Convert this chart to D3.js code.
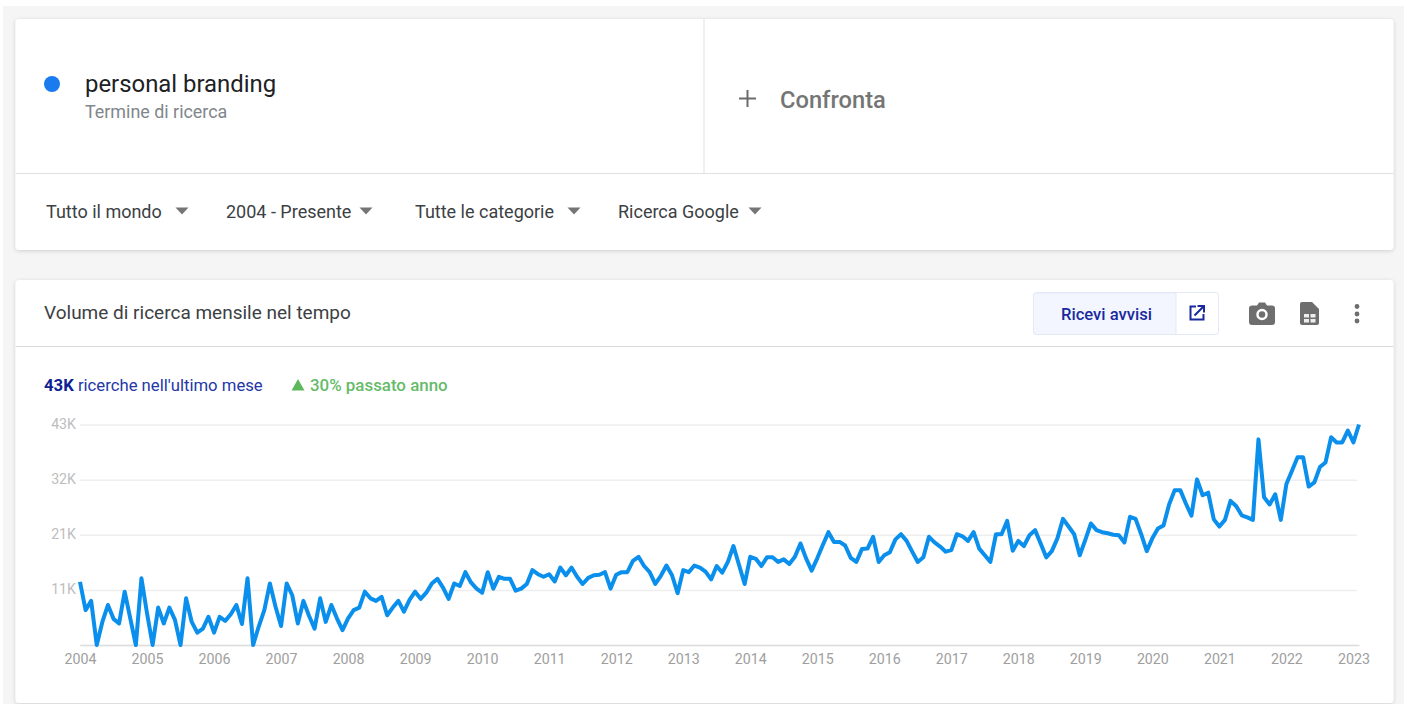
<!DOCTYPE html>
<html>
<head>
<meta charset="utf-8">
<script src="https://cdn.jsdelivr.net/npm/d3@7"></script>
<style>
  html, body { margin: 0; padding: 0; background: #fff; overflow: hidden; }
  svg { display: block; }
  text { font-family: Roboto, sans-serif; }
</style>
</head>
<body>
<div id="container"></div>
<script>
const width = 1407
const height = 704

// monthly searches in thousands, jan 2004 to feb 2023
const searches2004 = [12.3, 6.8, 8.6, 0, 4.5, 7.8, 5.1, 4.2, 10.4, 5.2, 0, 13.0]
const searches2005 = [6.2, 0, 7.3, 4.2, 7.3, 4.9, 0, 9.1, 4.5, 2.4, 3.2, 5.5]
const searches2006 = [2.4, 5.5, 4.7, 6.0, 7.8, 4.1, 13.0, 0, 3.6, 6.8, 12.0, 7.5]
const searches2007 = [3.7, 12.0, 9.7, 4.2, 8.6, 5.7, 3.2, 9.1, 4.5, 7.8, 5.2, 2.9]
const searches2008 = [5.2, 6.8, 7.3, 10.4, 9.1, 8.6, 9.4, 5.8, 7.3, 8.6, 6.5, 8.8]
const searches2009 = [10.4, 9.0, 10.2, 12.0, 12.9, 11.2, 9.0, 12.0, 11.5, 14.2, 12.2, 11.0]
const searches2010 = [10.2, 14.2, 11.0, 13.3, 12.9, 12.9, 10.6, 11.0, 11.9, 14.6, 13.8, 13.3]
const searches2011 = [13.8, 12.4, 15.1, 13.6, 15.1, 13.3, 11.9, 13.1, 13.6, 13.7, 14.2, 11.0]
const searches2012 = [13.7, 14.2, 14.2, 16.4, 17.2, 15.4, 14.2, 11.9, 13.5, 15.5, 13.6, 10.1]
const searches2013 = [14.6, 14.2, 15.5, 15.1, 14.3, 12.8, 15.4, 14.1, 16.2, 19.3, 15.6, 11.9]
const searches2014 = [17.2, 16.8, 15.4, 17.1, 17.1, 16.2, 16.7, 15.8, 17.2, 19.8, 16.9, 14.5]
const searches2015 = [16.9, 19.5, 22.0, 20.1, 20.1, 19.4, 17.0, 16.2, 18.7, 18.8, 21.1, 16.2]
const searches2016 = [17.5, 18.1, 20.6, 21.6, 20.3, 18.2, 16.2, 17.1, 21.1, 20.0, 19.2, 18.2]
const searches2017 = [18.5, 21.6, 21.2, 20.3, 22.0, 18.8, 17.5, 16.2, 21.6, 21.6, 24.2, 18.4]
const searches2018 = [20.3, 19.3, 21.4, 22.4, 19.8, 17.1, 18.3, 20.8, 24.6, 23.1, 21.6, 17.5]
const searches2019 = [20.5, 23.7, 22.4, 22.0, 21.8, 21.5, 21.4, 20.0, 25.0, 24.6, 21.6, 18.3]
const searches2020 = [20.8, 22.7, 23.3, 27.4, 30.2, 30.2, 27.6, 25.2, 32.3, 29.2, 29.7, 24.5]
const searches2021 = [23.1, 24.4, 28.1, 27.1, 25.3, 24.9, 24.4, 40.1, 28.8, 27.4, 29.4, 24.4]
const searches2022 = [31.4, 34.0, 36.6, 36.6, 30.9, 31.7, 34.7, 35.6, 40.5, 39.5, 39.5, 41.8]
const searches2023 = [39.5, 43.0]

const searches = [].concat(searches2004, searches2005, searches2006, searches2007, searches2008,
    searches2009, searches2010, searches2011, searches2012, searches2013, searches2014, searches2015,
    searches2016, searches2017, searches2018, searches2019, searches2020, searches2021, searches2022, searches2023)

const yearLabels = d3.range(2004, 2024)
const yTickValues = [0, 10.75, 21.5, 32.25, 43]
const yTickLabels = ["", "11K", "21K", "32K", "43K"]
const filters = [
    {label: "Tutto il mondo", x: 46, arrow: 182},
    {label: "2004 - Presente", x: 226, arrow: 366},
    {label: "Tutte le categorie", x: 415, arrow: 574},
    {label: "Ricerca Google", x: 618, arrow: 755}
]

const svg = d3.select("#container").append("svg")
    .attr("width", width)
    .attr("height", height)

const defs = svg.append("defs")
const shadow = defs.append("filter").attr("id", "cardShadow")
    .attr("x", "-2%").attr("y", "-5%").attr("width", "104%").attr("height", "110%")
shadow.append("feDropShadow")
    .attr("dx", 0).attr("dy", 1).attr("stdDeviation", 2)
    .attr("flood-color", "#000").attr("flood-opacity", 0.16)

// page background
svg.append("rect").attr("x", 3).attr("y", 6).attr("width", 1401).attr("height", 698).attr("fill", "#f5f5f5")

function addCard(y, h) {
    svg.append("rect")
        .attr("x", 15.5).attr("y", y).attr("width", 1378).attr("height", h).attr("rx", 4)
        .attr("fill", "#fff").attr("filter", "url(#cardShadow)")
}
function addText(x, y, str, size, color, weight) {
    return svg.append("text")
        .attr("x", x).attr("y", y).text(str)
        .attr("font-size", size).attr("fill", color).attr("font-weight", weight || 400)
}
function addRule(x1, y1, x2, y2, color, w) {
    svg.append("line")
        .attr("x1", x1).attr("y1", y1).attr("x2", x2).attr("y2", y2)
        .attr("stroke", color).attr("stroke-width", w || 1)
}

// top card
addCard(19, 231)
addRule(704, 19, 704, 173, "#e0e0e0")
addRule(15.5, 173.5, 1393.5, 173.5, "#e0e0e0")
svg.append("circle").attr("cx", 52).attr("cy", 84).attr("r", 8).attr("fill", "#1a7bf0")
addText(85, 92, "personal branding", 23.9, "#202124")
addText(85, 118, "Termine di ricerca", 17.9, "#80868b")
addRule(739, 98.5, 756, 98.5, "#6b6b6b", 2)
addRule(747.5, 90, 747.5, 107, "#6b6b6b", 2)
addText(780, 107.5, "Confronta", 23.7, "#757575", 500)

filters.forEach(f => {
    addText(f.x, 218, f.label, 18, "#3c4043")
    svg.append("path")
        .attr("d", "M-6.5 -3.5H6.5L0 3.5Z")
        .attr("transform", `translate(${f.arrow},211)`)
        .attr("fill", "#757575")
})

// chart card
addCard(280, 423)
addRule(15.5, 346.5, 1393.5, 346.5, "#dadce0")
addText(44, 319, "Volume di ricerca mensile nel tempo", 19, "#3c4043")

svg.append("rect").attr("x", 1033.5).attr("y", 292.5).attr("width", 185).attr("height", 42).attr("rx", 3)
    .attr("fill", "#fff").attr("stroke", "#e4e9f7")
svg.append("path").attr("d", "M1176 293H1036.5a3 3 0 0 0 -3 3V331.5a3 3 0 0 0 3 3H1176Z")
    .attr("fill", "#f3f6fe").attr("stroke", "#e4e9f7")
addText(1061, 319.5, "Ricevi avvisi", 16.6, "#1a2a9e", 500)

// open in new window icon
svg.append("path")
    .attr("d", "M1196 306.5H1190.5V319.5H1203.5V314M1194.5 315.5L1203 307M1197.5 306H1204V312.5")
    .attr("fill", "none").attr("stroke", "#1a2a9e").attr("stroke-width", 2)

// camera icon
svg.append("path")
    .attr("d", "M1252 305.5H1257L1259 302.5H1265L1267 305.5H1272a3 3 0 0 1 3 3V322a3 3 0 0 1 -3 3H1252a3 3 0 0 1 -3 -3V308.5a3 3 0 0 1 3 -3Z")
    .attr("fill", "#6e6e6e")
svg.append("circle").attr("cx", 1262).attr("cy", 314.5).attr("r", 4.5)
    .attr("fill", "#6e6e6e").attr("stroke", "#fff").attr("stroke-width", 2.5)

// sheet icon
svg.append("path")
    .attr("d", "M1302 302H1312L1319 309V323a2 2 0 0 1 -2 2H1302a2 2 0 0 1 -2 -2V304a2 2 0 0 1 2 -2Z")
    .attr("fill", "#6e6e6e")
svg.selectAll(".sheetCell").data([[1304, 314], [1310.5, 314], [1304, 319], [1310.5, 319]]).enter().append("rect")
    .attr("class", "sheetCell")
    .attr("x", d => d[0]).attr("y", d => d[1]).attr("width", 5).attr("height", 3.5).attr("fill", "#eee")

// three dots
svg.selectAll(".moreDot").data([306.5, 314, 321]).enter().append("circle")
    .attr("class", "moreDot")
    .attr("cx", 1357).attr("cy", d => d).attr("r", 2.4).attr("fill", "#6e6e6e")

// summary line
const summary = addText(44, 390.5, "", 16.7, "#2337a8")
summary.append("tspan").text("43K").attr("font-weight", 700).attr("fill", "#0f1f96")
summary.append("tspan").text(" ricerche nell'ultimo mese")
svg.append("path")
    .attr("d", "M-6.5 5.5L0 -6L6.5 5.5Z")
    .attr("transform", "translate(298,385)")
    .attr("fill", "#5cb85c")
addText(310, 390.5, "30% passato anno", 16.9, "#66bb6a", 500)

// chart
const x = d3.scaleLinear().domain([0, searches.length - 1]).range([80, 1359])
const y = d3.scaleLinear().domain([0, 43]).range([645, 424.5])

const grid = d3.axisLeft(y)
    .tickValues(yTickValues)
    .tickSize(-(1357 - 80))
    .tickPadding(4)
    .tickFormat((d, i) => yTickLabels[i])

const gridG = svg.append("g").attr("transform", "translate(80,0)").call(grid)
gridG.select(".domain").remove()
gridG.selectAll("line").attr("stroke", "#eeeeee").attr("stroke-width", 1.5)
gridG.selectAll("text").attr("font-size", 14.2).attr("fill", "#bdbdbd").attr("dy", "0.25em")

const xAxis = d3.axisBottom(x)
    .tickValues(yearLabels.map((d, i) => i * 12))
    .tickSize(0)
    .tickPadding(8.5)
    .tickFormat((d, i) => yearLabels[i])

const xG = svg.append("g").attr("transform", "translate(0,645)").call(xAxis)
xG.select(".domain").attr("stroke", "#dddddd").attr("stroke-width", 1.5)
xG.selectAll("text").attr("font-size", 14.2).attr("fill", "#9e9e9e")

const line = d3.line()
    .x((d, i) => x(i))
    .y(d => y(d))

svg.append("path")
    .datum(searches)
    .attr("d", line)
    .attr("fill", "none")
    .attr("stroke", "#0a8fec")
    .attr("stroke-width", 4)
    .attr("stroke-linejoin", "round")
</script>
</body>
</html>
